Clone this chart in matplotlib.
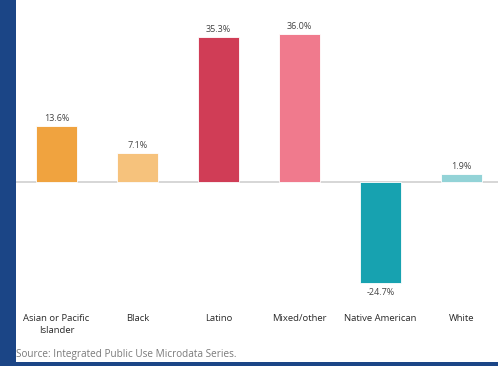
import matplotlib
matplotlib.use('Agg')
import matplotlib.pyplot as plt
from matplotlib.patches import Rectangle

categories = ['Asian or Pacific\nIslander', 'Black', 'Latino', 'Mixed/other', 'Native American', 'White']
values = [13.6, 7.1, 35.3, 36.0, -24.7, 1.9]
labels = ['13.6%', '7.1%', '35.3%', '36.0%', '-24.7%', '1.9%']
colors = ['#f0a33f', '#f6c27c', '#d03d56', '#f07a8d', '#17a2b0', '#93d3d7']

plt.rcParams['font.family'] = ['Open Sans', 'DejaVu Sans']

W, H = 498, 366
fig = plt.figure(figsize=(W / 100, H / 100), dpi=100)
fig.patch.set_facecolor('white')

# axes in pixel terms: left edge 16, top 0, bottom 300
ax = fig.add_axes([16 / W, (H - 300) / H, (W - 16) / W, 300 / H])
x = list(range(len(values)))
ax.bar(x, values, width=0.5, color=colors, edgecolor='white', linewidth=0.6, zorder=2)
ax.axhline(0, color='#cfcfcf', linewidth=1.2, zorder=1)
ax.set_xlim(-0.5, 5.45)
ax.set_ylim(-28.8, 44.4)
ax.axis('off')

for xi, v, lab in zip(x, values, labels):
    if v >= 0:
        ax.text(xi, v + 0.8, lab, ha='center', va='bottom', fontsize=6.5, color='#444444')
    else:
        ax.text(xi, v - 1.2, lab, ha='center', va='top', fontsize=6.5, color='#444444')

for xi, c in zip(x, categories):
    ax.text(xi, -32.3, c, ha='center', va='top', fontsize=6.8, color='#2a2a2a',
            linespacing=1.4, clip_on=False)

fig.text(16 / W, 1 - 355 / H, 'Source: Integrated Public Use Microdata Series.',
         ha='left', va='center', fontsize=7.2, color='#7a7a7a')

# dark blue frame strips
fig.patches.append(Rectangle((0, 0), 16 / W, 1, transform=fig.transFigure,
                             facecolor='#1b4586', edgecolor='none', zorder=5))
fig.patches.append(Rectangle((0, 0), 1, 4 / H, transform=fig.transFigure,
                             facecolor='#1b4586', edgecolor='none', zorder=5))

fig.savefig('out.png', dpi=100)
